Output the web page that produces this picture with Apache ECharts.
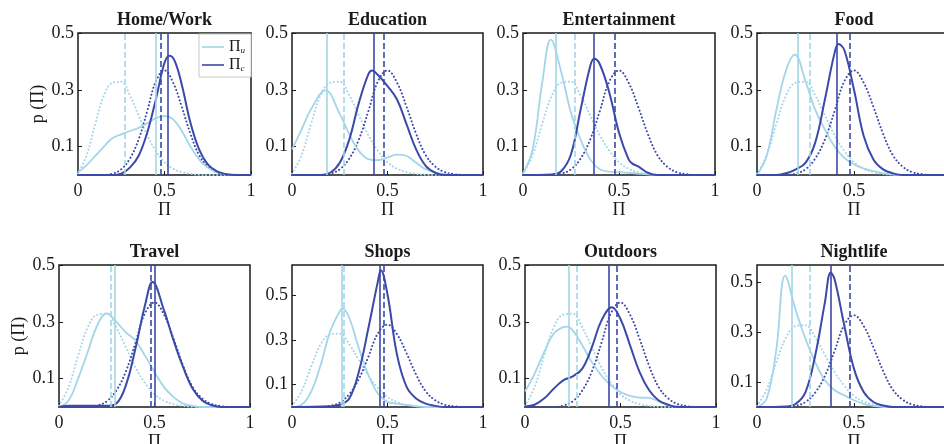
<!DOCTYPE html>
<html><head><meta charset="utf-8">
<script src="https://cdn.jsdelivr.net/npm/echarts@6/dist/echarts.min.js"></script>
<style>html,body{margin:0;padding:0;background:#fff;overflow:hidden}#c{width:944px;height:444px}</style>
</head><body><div id="c"></div>
<script>
// ---------- data ----------
const titles = ['Home/Work','Education','Entertainment','Food','Travel','Shops','Outdoors','Nightlife'];
const xTicks = [0, 0.5, 1];
const yTicks = [0.1, 0.3, 0.5];
const yMax = [0.5, 0.5, 0.5, 0.5, 0.5, 0.635, 0.5, 0.57];
const legendNames = ['Πu', 'Πc'];

// null-model curves (dotted), identical in every panel
const nullU = [[0,0.005],[0.05,0.07],[0.1,0.18],[0.15,0.28],[0.2,0.325],[0.25,0.328],[0.3,0.28],[0.35,0.21],[0.4,0.14],[0.45,0.085],[0.5,0.045],[0.55,0.022],[0.6,0.01],[0.65,0.004],[0.7,0.001],[0.75,0],[1,0]];
const nullC = [[0,0],[0.15,0],[0.2,0.005],[0.25,0.02],[0.3,0.058],[0.35,0.125],[0.4,0.225],[0.45,0.33],[0.5,0.368],[0.55,0.325],[0.6,0.24],[0.65,0.145],[0.7,0.07],[0.75,0.03],[0.8,0.01],[0.85,0.003],[0.9,0],[1,0]];
const nullMeanU = 0.267;
const nullMeanC = 0.478;

const homeWorkU = [[0,0.01],[0.05,0.035],[0.1,0.067],[0.15,0.1],[0.2,0.13],[0.25,0.143],[0.3,0.155],[0.35,0.166],[0.4,0.182],[0.45,0.2],[0.5,0.207],[0.55,0.196],[0.6,0.155],[0.65,0.1],[0.7,0.055],[0.75,0.026],[0.8,0.01],[0.85,0.004],[0.9,0.001],[1,0]];
const homeWorkC = [[0,0],[0.2,0],[0.25,0.005],[0.3,0.026],[0.35,0.067],[0.4,0.149],[0.45,0.266],[0.5,0.395],[0.53,0.42],[0.56,0.4],[0.6,0.318],[0.65,0.184],[0.7,0.09],[0.75,0.037],[0.8,0.014],[0.85,0.004],[0.9,0],[1,0]];
const educationU = [[0,0.09],[0.05,0.16],[0.1,0.232],[0.175,0.298],[0.25,0.215],[0.3,0.143],[0.35,0.085],[0.4,0.056],[0.45,0.052],[0.5,0.062],[0.55,0.072],[0.6,0.067],[0.65,0.043],[0.7,0.02],[0.75,0.008],[0.8,0.003],[0.85,0],[1,0]];
const educationC = [[0,0],[0.15,0],[0.2,0.008],[0.25,0.043],[0.3,0.125],[0.35,0.254],[0.4,0.355],[0.42,0.368],[0.45,0.352],[0.5,0.313],[0.55,0.266],[0.6,0.178],[0.65,0.09],[0.7,0.032],[0.75,0.008],[0.8,0],[1,0]];
const entertainmentU = [[0,0.005],[0.05,0.09],[0.1,0.324],[0.145,0.477],[0.2,0.36],[0.25,0.219],[0.3,0.125],[0.35,0.055],[0.4,0.02],[0.45,0.012],[0.5,0.01],[0.55,0.008],[0.6,0.005],[0.65,0.002],[0.7,0],[1,0]];
const entertainmentC = [[0,0],[0.15,0.002],[0.2,0.014],[0.25,0.073],[0.3,0.23],[0.35,0.383],[0.37,0.409],[0.4,0.39],[0.45,0.289],[0.5,0.149],[0.55,0.055],[0.57,0.04],[0.6,0.03],[0.65,0.008],[0.7,0],[1,0]];
const foodU = [[0,0],[0.05,0.067],[0.1,0.23],[0.15,0.37],[0.195,0.424],[0.25,0.33],[0.3,0.23],[0.35,0.16],[0.4,0.1],[0.45,0.06],[0.5,0.037],[0.55,0.023],[0.6,0.014],[0.65,0.006],[0.7,0.002],[0.75,0],[1,0]];
const foodC = [[0,0],[0.1,0],[0.15,0.006],[0.2,0.02],[0.25,0.043],[0.3,0.114],[0.35,0.266],[0.4,0.43],[0.42,0.461],[0.45,0.44],[0.5,0.3],[0.55,0.137],[0.6,0.055],[0.65,0.02],[0.7,0.006],[0.75,0],[1,0]];
const travelU = [[0,0],[0.05,0.023],[0.1,0.1],[0.15,0.193],[0.2,0.287],[0.25,0.33],[0.3,0.3],[0.35,0.263],[0.4,0.234],[0.45,0.181],[0.5,0.123],[0.55,0.07],[0.6,0.035],[0.65,0.012],[0.7,0.004],[0.75,0],[1,0]];
const travelC = [[0,0],[0.05,0.004],[0.25,0.004],[0.3,0.012],[0.35,0.076],[0.4,0.205],[0.45,0.357],[0.49,0.44],[0.55,0.34],[0.6,0.234],[0.65,0.14],[0.7,0.064],[0.75,0.023],[0.8,0.006],[0.85,0],[1,0]];
const shopsU = [[0,0],[0.05,0.01],[0.1,0.068],[0.15,0.188],[0.2,0.338],[0.25,0.428],[0.265,0.44],[0.3,0.398],[0.35,0.263],[0.4,0.143],[0.45,0.06],[0.5,0.023],[0.55,0.015],[0.6,0.008],[0.65,0.003],[0.7,0],[1,0]];
const shopsC = [[0,0],[0.2,0.003],[0.25,0.01],[0.3,0.038],[0.35,0.158],[0.4,0.353],[0.45,0.563],[0.465,0.611],[0.5,0.503],[0.55,0.233],[0.6,0.09],[0.65,0.038],[0.7,0.015],[0.75,0.005],[0.8,0],[1,0]];
const outdoorsU = [[0,0.055],[0.05,0.117],[0.1,0.193],[0.15,0.258],[0.2,0.281],[0.22,0.283],[0.25,0.27],[0.3,0.217],[0.35,0.158],[0.4,0.111],[0.45,0.076],[0.5,0.053],[0.55,0.039],[0.6,0.033],[0.65,0.032],[0.7,0.02],[0.75,0.006],[0.8,0.002],[0.85,0],[1,0]];
const outdoorsC = [[0,0.002],[0.05,0.008],[0.1,0.03],[0.15,0.064],[0.2,0.094],[0.25,0.108],[0.3,0.135],[0.35,0.21],[0.4,0.304],[0.455,0.351],[0.5,0.31],[0.55,0.217],[0.6,0.123],[0.65,0.059],[0.7,0.023],[0.75,0.008],[0.8,0],[1,0]];
const nightlifeU = [[0,0],[0.05,0.033],[0.1,0.233],[0.145,0.527],[0.2,0.387],[0.25,0.273],[0.3,0.18],[0.35,0.107],[0.4,0.067],[0.45,0.047],[0.5,0.027],[0.55,0.013],[0.6,0.005],[0.65,0],[1,0]];
const nightlifeC = [[0,0],[0.15,0.002],[0.2,0.013],[0.25,0.06],[0.3,0.207],[0.35,0.42],[0.38,0.54],[0.4,0.513],[0.45,0.327],[0.5,0.153],[0.55,0.06],[0.6,0.02],[0.65,0.006],[0.7,0],[1,0]];

const seriesU = [homeWorkU, educationU, entertainmentU, foodU, travelU, shopsU, outdoorsU, nightlifeU];
const seriesC = [homeWorkC, educationC, entertainmentC, foodC, travelC, shopsC, outdoorsC, nightlifeC];
const meanU = [0.445, 0.18, 0.17, 0.209, 0.292, 0.257, 0.232, 0.179];
const meanC = [0.516, 0.433, 0.37, 0.414, 0.502, 0.459, 0.436, 0.382];

// ---------- layout & style ----------
const boxes = [
  [78,33,173,142],[292,33,191,142],[523,33,192,142],[757,33,194,142],
  [59,265,191,142],[292,265,191,142],[525,265,191,142],[757,265,194,142]
];
const LIGHT = '#a3d6e8';
const DARK = '#3b49a8';
const FONT = 'Liberation Serif';
const TXT = '#1a1a1a';

const grids = [], xAxes = [], yAxes = [], series = [], titleArr = [];
boxes.forEach((b, i) => {
  grids.push({left: b[0], top: b[1], width: b[2], height: b[3], show: true,
    outerBoundsMode: 'none', containLabel: false,
    borderColor: '#1a1a1a', borderWidth: 1.5, backgroundColor: 'transparent'});
  const firstCol = (i % 4 === 0);
  xAxes.push({type: 'value', gridIndex: i, min: 0, max: 1,
    name: 'Π', nameLocation: 'middle', nameGap: 23,
    nameTextStyle: {fontFamily: FONT, fontSize: 18, color: TXT},
    axisLine: {show: false}, splitLine: {show: false},
    axisTick: {inside: true, length: 4, customValues: xTicks, lineStyle: {color: '#1a1a1a'}},
    axisLabel: {customValues: xTicks, fontFamily: FONT, fontSize: 18, color: TXT, margin: 7,
      formatter: v => String(v)}});
  yAxes.push({type: 'value', gridIndex: i, min: 0, max: yMax[i],
    name: firstCol ? 'p (Π)' : '', nameLocation: 'middle', nameGap: i === 0 ? 28 : 30,
    nameTextStyle: {fontFamily: FONT, fontSize: 18, color: TXT},
    axisLine: {show: false}, splitLine: {show: false},
    axisTick: {inside: true, length: 4, customValues: yTicks, lineStyle: {color: '#1a1a1a'}},
    axisLabel: {customValues: yTicks, fontFamily: FONT, fontSize: 18, color: TXT, margin: 4,
      formatter: v => String(v)}});
  titleArr.push({text: titles[i], left: b[0] + b[2] / 2, top: b[1] - 22, textAlign: 'center', padding: 0,
    textStyle: {fontFamily: FONT, fontSize: 18, fontWeight: 'bold', color: TXT}});

  const ml = (x, color, type) => ({silent: true, symbol: ['none','none'], label: {show: false},
    animation: false, data: [{xAxis: x}], lineStyle: {color: color, width: 1.6, type: type}});
  series.push({type: 'line', name: 'nullU', xAxisIndex: i, yAxisIndex: i, data: nullU,
    smooth: 0.4, symbol: 'none', lineStyle: {color: LIGHT, width: 2, type: [0.1, 3.6], cap: 'round'},
    markLine: ml(nullMeanU, LIGHT, [6, 3]), z: 2});
  series.push({type: 'line', name: 'nullC', xAxisIndex: i, yAxisIndex: i, data: nullC,
    smooth: 0.4, symbol: 'none', lineStyle: {color: DARK, width: 2, type: [0.1, 3.6], cap: 'round'},
    markLine: ml(nullMeanC, DARK, [6, 3]), z: 2});
  series.push({type: 'line', name: legendNames[0], xAxisIndex: i, yAxisIndex: i, data: seriesU[i],
    smooth: 0.4, symbol: 'none', lineStyle: {color: LIGHT, width: 1.8},
    itemStyle: {color: LIGHT}, markLine: ml(meanU[i], LIGHT, 'solid'), z: 3});
  series.push({type: 'line', name: legendNames[1], xAxisIndex: i, yAxisIndex: i, data: seriesC[i],
    smooth: 0.4, symbol: 'none', lineStyle: {color: DARK, width: 2},
    itemStyle: {color: DARK}, markLine: ml(meanC[i], DARK, 'solid'), z: 4});
});

const chart = echarts.init(document.getElementById('c'), null, {renderer: 'canvas'});
chart.setOption({
  animation: false,
  backgroundColor: '#fff',
  title: titleArr,
  grid: grids, xAxis: xAxes, yAxis: yAxes, series: series,
  legend: {data: legendNames, orient: 'vertical', left: 199, top: 34,
    backgroundColor: '#fff', borderColor: '#c8c8c8', borderWidth: 1,
    padding: [5, 6, 4, 3], itemGap: 2, itemWidth: 22, itemHeight: 1.6, icon: 'rect',
    formatter: n => n === 'Πu' ? '{m|Π}{s|u}' : '{m|Π}{s|c}',
    textStyle: {fontFamily: FONT, fontSize: 16, color: TXT,
      rich: {m: {fontFamily: FONT, fontSize: 16, lineHeight: 16, verticalAlign: 'bottom', color: TXT},
             s: {fontFamily: FONT, fontSize: 9, fontStyle: 'italic', lineHeight: 8, verticalAlign: 'bottom', color: TXT}}}}
});
</script></body></html>
